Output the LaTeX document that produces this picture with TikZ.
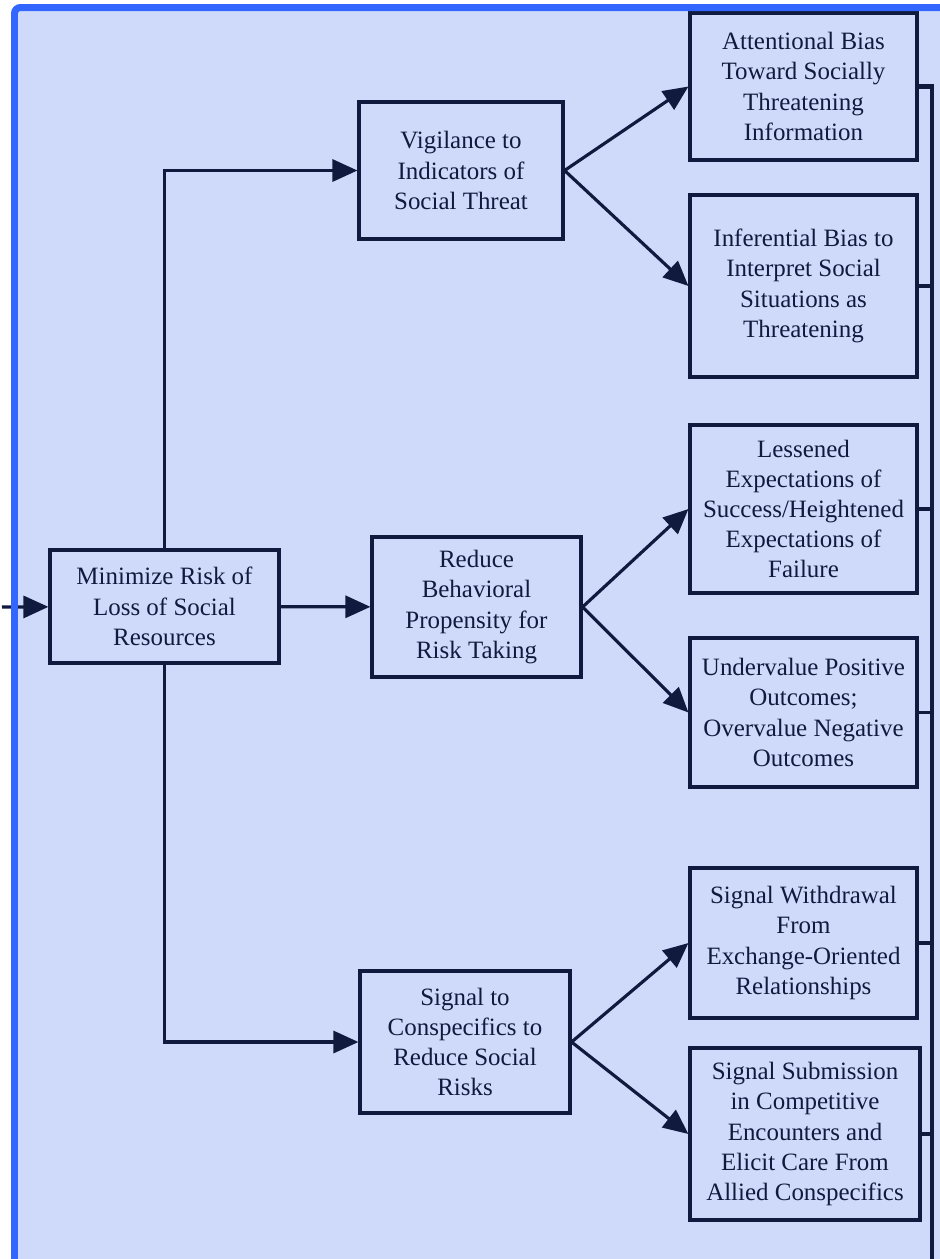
\documentclass[tikz,border=0pt]{standalone}
\usepackage{fontspec}
\setmainfont{Liberation Serif}
\usepackage{xcolor}
\usetikzlibrary{arrows.meta, positioning, calc}

\definecolor{ink}{RGB}{16,26,62}
\definecolor{paper}{RGB}{207,218,250}
\definecolor{frame}{RGB}{51,102,255}

\begin{document}
\begin{tikzpicture}[
    x=0.02cm, y=-0.02cm,
    block/.style={rectangle, draw=ink, text=ink, line width=1.8pt, align=center, inner sep=0pt, font=\fontsize{14.2}{17.2}\selectfont},
    outcome/.style={block, minimum width=4.54cm},
    arrow/.style={line width=1.8pt, draw=ink, -{Triangle[length=0.5cm, width=0.44cm]}},
    link/.style={line width=1.8pt, draw=ink}
]
    % Page and background
    \useasboundingbox (0,0) rectangle (940,1259);
    \fill[white] (0,0) rectangle (940,1259);
    \fill[paper] (14,7) rectangle (940,1259);

    % Nodes
    \node (minimize) [block, minimum width=4.58cm, minimum height=2.26cm] at (164.5,606.5) {Minimize Risk of\\Loss of Social\\Resources};

    \node (vigilance) [block, minimum width=4.08cm, minimum height=2.74cm] at (461,170.5) {Vigilance to\\Indicators of\\Social Threat};
    \node (reduce) [block, minimum width=4.18cm, minimum height=2.8cm] at (476.5,607) {Reduce\\Behavioral\\Propensity for\\Risk Taking};
    \node (signal) [block, minimum width=4.2cm, minimum height=2.84cm] at (465,1042) {Signal to\\Conspecifics to\\Reduce Social\\Risks};

    \node (attentional) [outcome, minimum height=2.94cm] at (803.5,86.5) {Attentional Bias\\Toward Socially\\Threatening\\Information};
    \node (inferential) [outcome, minimum height=3.64cm] at (803.5,286) {Inferential Bias to\\Interpret Social\\Situations as\\Threatening};
    \node (lessened) [outcome, minimum height=3.36cm] at (803.5,509) {Lessened\\Expectations of\\Success/Heightened\\Expectations of\\Failure};
    \node (undervalue) [outcome, minimum height=2.98cm] at (803.5,712.5) {Undervalue Positive\\Outcomes;\\Overvalue Negative\\Outcomes};
    \node (withdrawal) [outcome, minimum height=3cm] at (803.5,943) {Signal Withdrawal\\From\\Exchange-Oriented\\Relationships};
    \node (submission) [outcome, minimum width=4.6cm, minimum height=3.44cm] at (805,1134) {Signal Submission\\in Competitive\\Encounters and\\Elicit Care From\\Allied Conspecifics};

    \coordinate (entry) at (2,607);
    \coordinate (busend) at (932,1259);

    % Flows
    \draw [arrow] (entry) -- (minimize);
    \draw [arrow] (minimize.north) |- (vigilance.west);
    \draw [arrow] (minimize) -- (reduce);
    \draw [arrow] (minimize.south) |- (signal.west);

    \draw [arrow] (vigilance.east) -- (attentional.west);
    \draw [arrow] (vigilance.east) -- (inferential.west);
    \draw [arrow] (reduce.east) -- (lessened.west);
    \draw [arrow] (reduce.east) -- (undervalue.west);
    \draw [arrow] (signal.east) -- (withdrawal.west);
    \draw [arrow] (signal.east) -- (submission.west);

    % Right-hand bus
    \draw [link, line width=2.6pt] (attentional.east) -| (busend);
    \foreach \n in {inferential, lessened, undervalue, withdrawal, submission}
        \draw [link] (\n.east) -- (\n.east -| busend);

    % Frame
    \draw[frame, line width=0.14cm, rounded corners=0.12cm] (14.5,1265) |- (950,7.5);
\end{tikzpicture}
\end{document}
